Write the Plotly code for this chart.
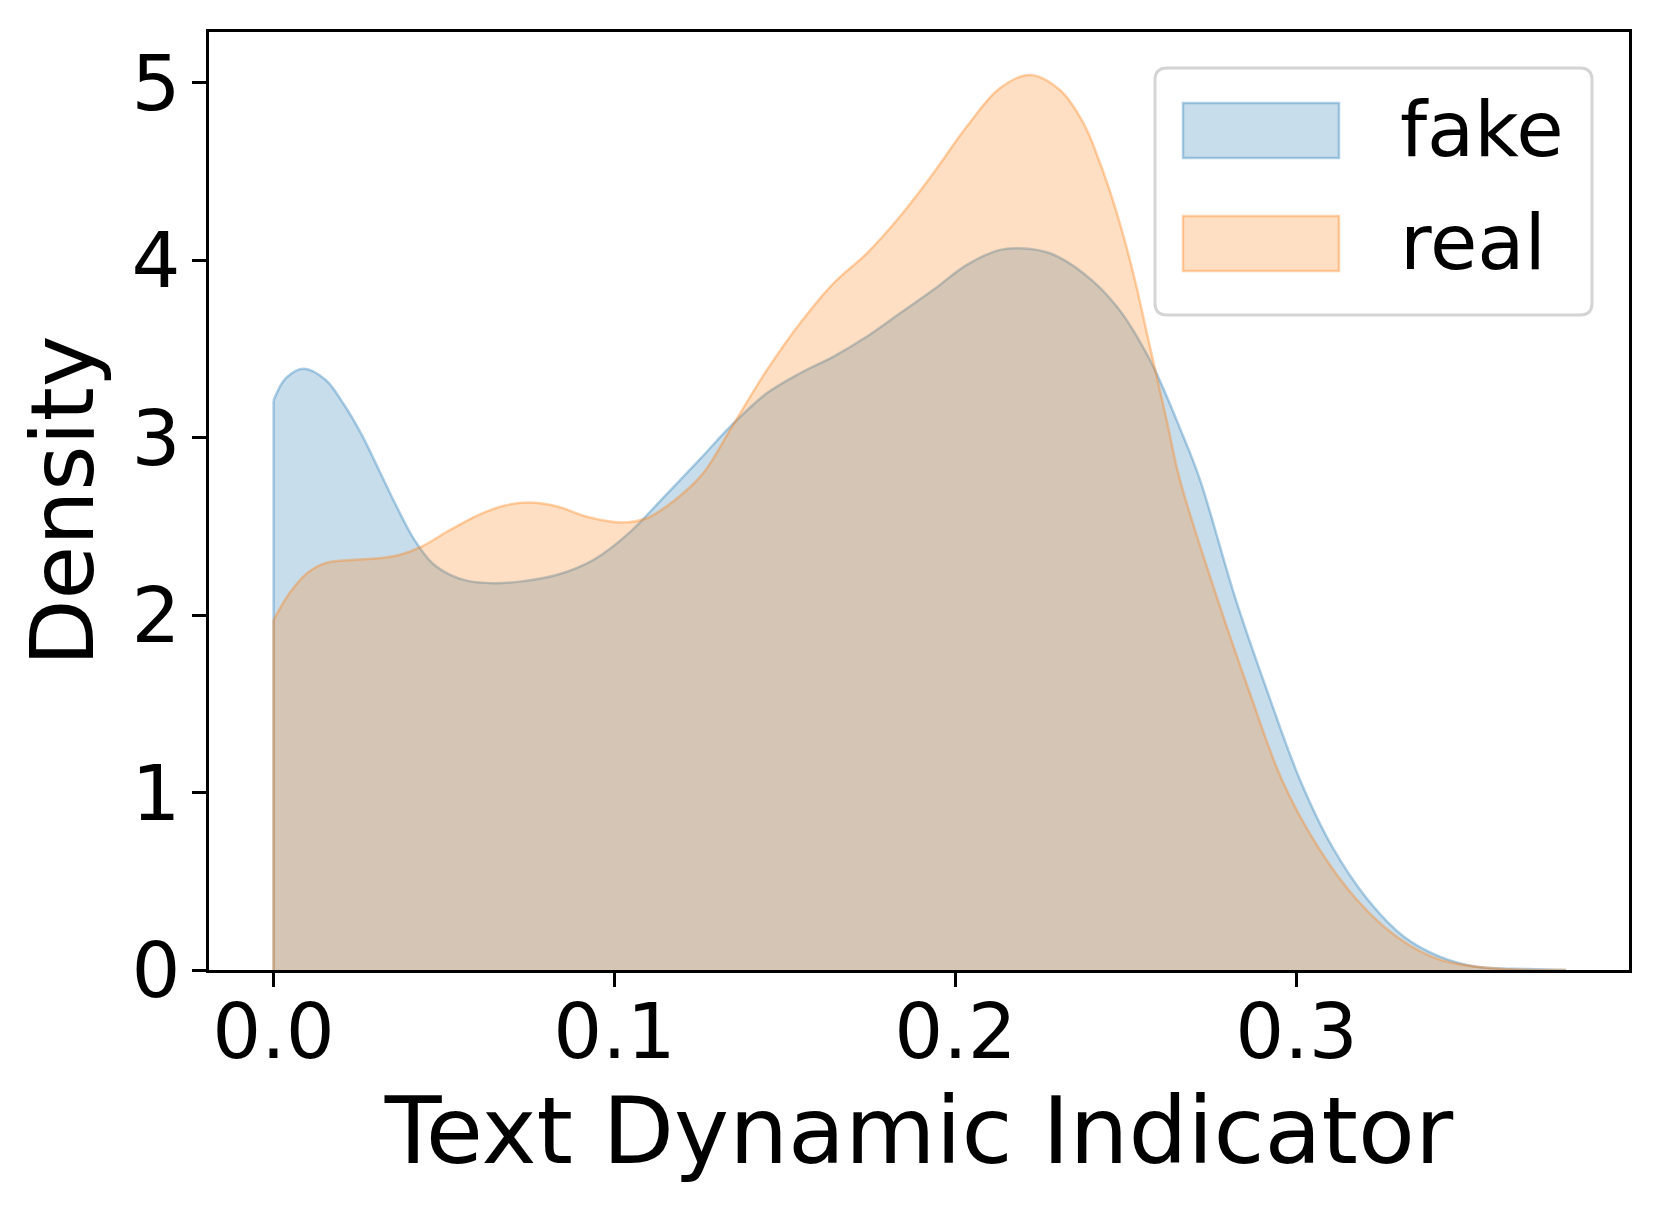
import plotly.graph_objects as go

# KDE curves (x = Text Dynamic Indicator, y = density)
fake_x = [0.0000, 0.0036, 0.0089, 0.0152, 0.0204, 0.0256, 0.0309, 0.0361, 0.0413, 0.0466,
          0.0518, 0.0570, 0.0644, 0.0727, 0.0832, 0.0937, 0.1042, 0.1146, 0.1251, 0.1339,
          0.1447, 0.1544, 0.1642, 0.1740, 0.1837, 0.1935, 0.2033, 0.2130, 0.2189, 0.2277,
          0.2375, 0.2473, 0.2570, 0.2668, 0.2717, 0.2822, 0.2916, 0.3010, 0.3104, 0.3209,
          0.3314, 0.3418, 0.3523, 0.3680, 0.3790]
fake_y = [3.210, 3.335, 3.388, 3.326, 3.194, 3.025, 2.818, 2.611, 2.424, 2.292,
          2.227, 2.193, 2.180, 2.190, 2.227, 2.310, 2.462, 2.668, 2.880, 3.062,
          3.251, 3.363, 3.457, 3.570, 3.701, 3.833, 3.974, 4.058, 4.067, 4.039,
          3.927, 3.739, 3.438, 3.006, 2.762, 2.086, 1.561, 1.072, 0.696, 0.396,
          0.189, 0.077, 0.020, 0.005, 0.000]

real_x = [0.0000, 0.0047, 0.0099, 0.0152, 0.0225, 0.0309, 0.0371, 0.0434, 0.0518, 0.0602,
          0.0675, 0.0748, 0.0832, 0.0916, 0.1021, 0.1094, 0.1178, 0.1260, 0.1339, 0.1447,
          0.1544, 0.1642, 0.1740, 0.1837, 0.1935, 0.2033, 0.2130, 0.2218, 0.2306, 0.2375,
          0.2424, 0.2473, 0.2521, 0.2570, 0.2619, 0.2658, 0.2769, 0.2863, 0.2957, 0.3062,
          0.3177, 0.3293, 0.3418, 0.3575, 0.3790]
real_y = [1.973, 2.124, 2.237, 2.293, 2.310, 2.320, 2.340, 2.386, 2.480, 2.565,
          2.616, 2.634, 2.612, 2.556, 2.522, 2.546, 2.650, 2.800, 3.044, 3.382,
          3.645, 3.870, 4.039, 4.246, 4.490, 4.753, 4.969, 5.044, 4.959, 4.772,
          4.546, 4.265, 3.927, 3.513, 3.100, 2.762, 2.086, 1.561, 1.072, 0.696,
          0.396, 0.189, 0.060, 0.010, 0.000]

labels = ['fake', 'real']
fills = ['rgba(31,119,180,0.25)', 'rgba(255,127,14,0.25)']
edges = ['rgba(31,119,180,0.35)', 'rgba(255,127,14,0.35)']

OFF = 8                       # page body margin
W, H = 1661 - OFF, 1214 - OFF
L, R, T, B = 209 - OFF, 1629 - OFF, 32 - OFF, 970 - OFF   # plot area in figure pixels
FONT = 'DejaVu Sans'

fig = go.Figure()
for name, xs, ys, fc, lc in zip(labels, [fake_x, real_x], [fake_y, real_y], fills, edges):
    fig.add_trace(go.Scatter(x=xs, y=ys, name=name, mode='lines', fill='tozeroy',
                             fillcolor=fc, line=dict(color=lc, width=2.5, shape='spline', smoothing=1.0),
                             showlegend=False, hoverinfo='skip'))
    # clipped edge at x = 0
    fig.add_trace(go.Scatter(x=[xs[0], xs[0]], y=[0, ys[0]], mode='lines',
                             line=dict(color=lc, width=2.5), showlegend=False, hoverinfo='skip'))


# legend drawn by hand (matplotlib style: big patches, rounded frame)
def px(X):
    return (X - OFF - L) / (R - L)


def py(Y):
    return (B - (Y - OFF)) / (B - T)


x0, x1, y0, y1, r = 1155, 1592, 68, 315, 12
path = (f'M {px(x0 + r)},{py(y0)} L {px(x1 - r)},{py(y0)} Q {px(x1)},{py(y0)} {px(x1)},{py(y0 + r)} '
        f'L {px(x1)},{py(y1 - r)} Q {px(x1)},{py(y1)} {px(x1 - r)},{py(y1)} '
        f'L {px(x0 + r)},{py(y1)} Q {px(x0)},{py(y1)} {px(x0)},{py(y1 - r)} '
        f'L {px(x0)},{py(y0 + r)} Q {px(x0)},{py(y0)} {px(x0 + r)},{py(y0)} Z')
fig.add_shape(type='path', path=path, xref='paper', yref='paper',
              line=dict(color='#d4d4d4', width=3), fillcolor='rgba(255,255,255,0.8)')

for i, (name, fc, lc) in enumerate(zip(labels, fills, edges)):
    top = 103 + i * 113
    fig.add_shape(type='rect', xref='paper', yref='paper',
                  x0=px(1183), x1=px(1339), y0=py(top + 55), y1=py(top),
                  fillcolor=fc, line=dict(color=lc, width=2.5))
    fig.add_annotation(x=px(1398), y=py(top + 27), xref='paper', yref='paper', text=name,
                       showarrow=False, xanchor='left', yanchor='middle',
                       font=dict(family=FONT, size=77, color='black'))

axis_style = dict(showline=True, mirror=True, linecolor='black', linewidth=3,
                  ticks='outside', ticklen=14, tickwidth=3, tickcolor='black',
                  showgrid=False, zeroline=False,
                  tickfont=dict(family=FONT, size=77, color='black'))

fig.update_layout(
    width=W, height=H,
    margin=dict(l=L, r=W - R, t=T, b=H - B, autoexpand=False),
    paper_bgcolor='white', plot_bgcolor='white',
    xaxis=dict(range=[-0.01894, 0.3975], tick0=0, dtick=0.1, tickformat='.1f',
               ticklabelstandoff=-21,
               title=dict(text='Text Dynamic Indicator', standoff=23,
                          font=dict(family=FONT, size=93, color='black')),
               **axis_style),
    yaxis=dict(range=[0, 5.286], tick0=0, dtick=1, ticklabelstandoff=-4,
               title=dict(text='Density', standoff=10,
                          font=dict(family=FONT, size=87, color='black')),
               **axis_style),
)

fig.write_html('out.html')
